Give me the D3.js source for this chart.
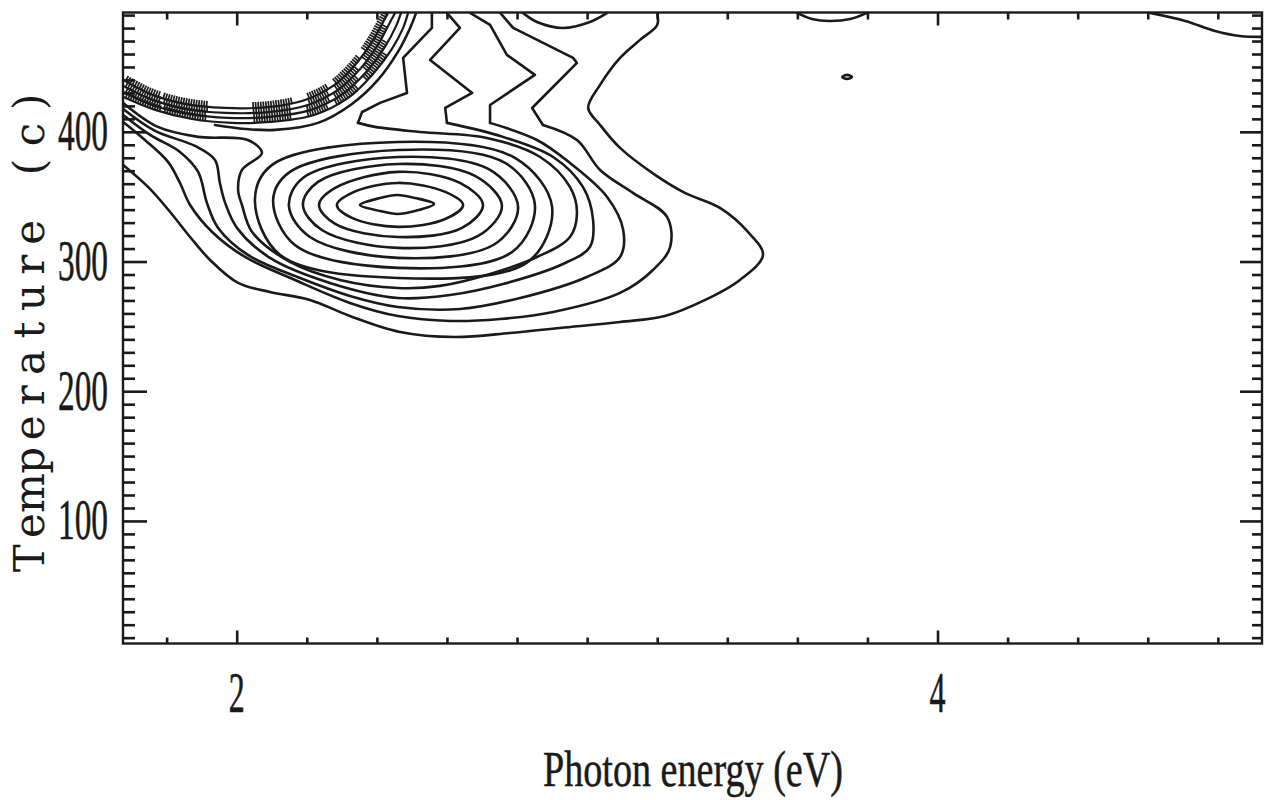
<!DOCTYPE html>
<html>
<head>
<meta charset="utf-8">
<script src="https://cdn.jsdelivr.net/npm/d3@7"></script>
<style>
  body { margin: 0; background: #fff; }
  svg { display: block; }
</style>
</head>
<body>
<script>

// Contour lines, points are [photon energy (eV), temperature (c)]

// closed rings round the peak, innermost first
var lens  = [[2.352,343.6],[2.409,349.0],[2.458,351.3],[2.509,349.0],[2.563,344.4],[2.509,339.0],[2.458,336.7],[2.409,339.0]]
var ringA = [[2.286,343.6],[2.329,352.9],[2.460,360.6],[2.595,353.7],[2.646,343.6],[2.595,332.8],[2.460,326.7],[2.329,333.6]]
var ringB = [[2.235,343.6],[2.281,356.7],[2.460,369.1],[2.637,360.6],[2.703,343.6],[2.643,325.9],[2.460,318.9],[2.281,329.0]]
var ringC = [[2.189,343.6],[2.232,361.4],[2.460,375.2],[2.680,366.0],[2.757,342.9],[2.689,319.7],[2.460,310.5],[2.243,324.3]]
var ringD = [[2.149,342.9],[2.189,364.4],[2.460,380.6],[2.723,370.6],[2.803,342.1],[2.737,313.5],[2.460,302.8],[2.209,318.9]]
var ringE = [[2.104,347.5],[2.152,369.1],[2.460,386.0],[2.766,376.0],[2.851,343.6],[2.786,307.4],[2.460,295.1],[2.166,312.8]]
var ringF = [[2.052,347.5],[2.101,374.5],[2.460,392.2],[2.794,379.9],[2.900,342.1],[2.831,299.7],[2.460,287.3],[2.124,305.1]]

// open lines: from the left edge round the peak (smooth part) ...
var lineG = [[1.676,422.3],[1.775,403.8],[1.890,396.1],[2.032,393.7],[2.072,383.7],[2.015,370.6],[2.004,355.2],[2.015,343.6],
             [2.044,322.8],[2.152,299.7],[2.295,285.8],[2.460,279.6],[2.580,281.2],[2.723,290.4],[2.857,303.5],[2.951,318.9],
             [2.971,337.5],[2.951,357.5],[2.866,380.6],[2.714,395.3],[2.523,399.9],[2.395,403.8],[2.346,406.9]]
var lineH = [[1.676,417.6],[1.767,400.7],[1.881,389.1],[1.938,378.3],[1.952,360.6],[1.967,345.2],[2.001,325.9],[2.095,302.8],
             [2.266,283.5],[2.460,271.9],[2.609,274.2],[2.760,282.7],[2.931,298.1],[3.008,311.2],[3.017,332.1],[2.988,357.5],
             [2.903,380.6],[2.760,396.1],[2.600,406.9]]
var lineI = [[1.676,413.0],[1.753,397.6],[1.838,384.5],[1.890,369.1],[1.915,345.2],[1.947,325.9],[2.032,305.1],[2.181,287.3],
             [2.323,273.5],[2.460,265.0],[2.637,263.4],[2.809,271.9],[2.999,288.1],[3.094,303.5],[3.103,324.3],[3.057,349.8],
             [2.951,376.0],[2.857,393.7],[2.723,406.9]]
var lineJ = [[1.676,407.6],[1.738,393.7],[1.804,376.8],[1.838,360.6],[1.867,343.6],[1.930,322.8],[2.024,303.5],[2.166,285.8],
             [2.323,268.1],[2.460,258.0],[2.609,254.2],[2.752,255.7],[2.903,261.1],[3.094,275.8],[3.188,293.5],[3.237,311.2],
             [3.228,334.4],[3.131,352.9],[3.037,370.6],[2.971,393.7],[2.874,405.3]]
var lineK = [[1.676,374.5],[1.747,357.5],[1.810,338.2],[1.867,318.9],[1.924,301.2],[2.004,283.5],[2.095,276.5],[2.209,270.4],
             [2.323,258.0],[2.466,245.7],[2.623,241.8],[2.780,244.9],[2.923,248.8],[3.094,253.4],[3.222,258.0],[3.337,270.4],
             [3.436,285.8],[3.502,305.1],[3.459,322.8],[3.379,341.3],[3.279,352.9],[3.194,366.8],[3.094,387.6],[3.037,405.3],
             [3.003,418.4],[3.037,436.2],[3.094,457.0],[3.151,470.9],[3.200,482.4],[3.200,491.7]]

// ... and their straight zigzag ends up to the top edge
var lineGTop = [[2.346,406.9],[2.358,415.3],[2.409,422.3],[2.486,430.0],[2.475,457.0],[2.557,480.1],[2.557,491.7]]
var lineHTop = [[2.600,406.9],[2.595,418.4],[2.672,430.0],[2.552,455.4],[2.637,480.1],[2.600,491.7]]
var lineITop = [[2.723,406.9],[2.723,420.7],[2.851,443.9],[2.771,459.3],[2.723,482.4],[2.666,491.7]]
var lineJTop = [[2.874,405.3],[2.843,418.4],[2.971,453.1],[2.960,457.0],[2.789,480.1],[2.752,491.7]]

// arcs round the hollow in the upper left corner (hatched in places)
var arcU1 = [[1.676,440.0],[1.753,429.2],[1.852,421.5],[1.967,418.4],[2.095,419.2],[2.195,424.6],[2.275,435.4],[2.338,451.6],[2.386,469.3],[2.418,484.7],[2.432,491.7]]
var arcU2 = [[1.676,435.4],[1.753,425.4],[1.852,417.6],[1.967,414.6],[2.095,415.3],[2.203,420.7],[2.289,432.3],[2.355,449.3],[2.403,467.0],[2.435,483.2],[2.452,491.7]]
var arcU3 = [[1.676,430.8],[1.758,420.7],[1.861,413.8],[1.975,410.7],[2.095,411.5],[2.212,416.9],[2.303,429.2],[2.372,446.9],[2.423,465.5],[2.455,481.7],[2.469,491.7]]
var arcU4 = [[1.676,426.9],[1.767,416.9],[1.872,409.9],[1.987,406.9],[2.095,407.6],[2.221,413.0],[2.318,426.1],[2.389,444.6],[2.443,463.9],[2.475,480.1],[2.489,491.7]]
var arcU0 = [[1.938,405.3],[2.024,402.2],[2.109,401.5],[2.232,406.9],[2.329,421.5],[2.403,440.0],[2.460,461.6],[2.495,480.1],[2.512,491.7]]

// small pieces near the top edge
var topArcMid   = [[2.817,491.7],[2.857,484.7],[2.931,480.1],[3.008,484.7],[3.057,491.7]]
var topArcRight = [[3.599,491.7],[3.642,487.0],[3.693,485.5],[3.751,487.0],[3.799,491.7]]
var cornerLine  = [[4.607,491.7],[4.707,485.5],[4.792,477.8],[4.863,473.9],[4.926,473.2]]
var blob        = [[3.728,442.3],[3.742,443.9],[3.756,442.3],[3.742,440.8]]

// energy ranges where the hollow arcs are drawn hatched
var hatchRanges = [[1.676,1.781],[1.790,1.915],[2.044,2.158],[2.203,2.266],[2.283,2.352],[2.369,2.432]]

var xMajorTicks = [2, 4]
var yMajorTicks = [100, 200, 300, 400]
var xTitle = 'Photon energy (eV)'
var yTitle = 'Temperature (c)'

var closedContours = [lens, ringA, ringB, ringC, ringD, ringE, ringF, blob]
var smoothContours = [lineG, lineH, lineI, lineJ, lineK, arcU0, topArcMid, topArcRight, cornerLine]
var zigzagContours = [lineGTop, lineHTop, lineITop, lineJTop]
var hatchedArcs = [arcU1, arcU2, arcU3, arcU4]

var width = 1265
var height = 800
var plotLeft = 123, plotRight = 1262, plotTop = 12.5, plotBottom = 643.5
var ink = '#1a1a1a'
var lineWidth = 2.6

var x = d3.scaleLinear().domain([1.6755, 4.926]).range([plotLeft, plotRight])
var y = d3.scaleLinear().domain([5.5, 492]).range([plotBottom, plotTop])

var svg = d3.select('body').append('svg')
    .attr('width', width)
    .attr('height', height)

svg.append('defs').append('clipPath').attr('id', 'plot-clip')
    .append('rect')
        .attr('x', plotLeft).attr('y', plotTop)
        .attr('width', plotRight - plotLeft).attr('height', plotBottom - plotTop)

var plot = svg.append('g').attr('clip-path', 'url(#plot-clip)')

var smoothLine = d3.line()
    .x(d => x(d[0]))
    .y(d => y(d[1]))
    .curve(d3.curveCatmullRom.alpha(0.5))

var straightLine = d3.line()
    .x(d => x(d[0]))
    .y(d => y(d[1]))

var closedLine = d3.line()
    .x(d => x(d[0]))
    .y(d => y(d[1]))
    .curve(d3.curveCatmullRomClosed.alpha(0.5))

function drawPaths(cls, data, gen) {
    return plot.selectAll('path.' + cls)
        .data(data)
        .enter().append('path')
            .attr('class', cls)
            .attr('d', gen)
            .attr('fill', 'none')
            .attr('stroke', ink)
            .attr('stroke-width', lineWidth)
            .attr('stroke-linejoin', 'round')
            .attr('stroke-linecap', 'round')
}

function drawContours() {
    drawPaths('closed', closedContours, closedLine)
    drawPaths('smooth', smoothContours, smoothLine)
    drawPaths('zigzag', zigzagContours, straightLine)
    var arcs = drawPaths('arc', hatchedArcs, smoothLine).attr('stroke-width', 2.2)

    // hatch ticks point into the hollow (left of the direction of travel)
    var hatch = plot.append('g')
        .attr('stroke', ink)
        .attr('stroke-width', 1.7)
    arcs.each(function() {
        var path = this
        var total = path.getTotalLength()
        for (var s = 0; s < total - 1; s += 2.6) {
            var p = path.getPointAtLength(s)
            var e = x.invert(p.x)
            var inside = hatchRanges.some(r => e >= r[0] && e <= r[1])
            if (!inside) continue
            var q = path.getPointAtLength(s + 1)
            var dx = q.x - p.x, dy = q.y - p.y
            var len = Math.sqrt(dx * dx + dy * dy) || 1
            var nx = dy / len, ny = -dx / len
            hatch.append('line')
                .attr('x1', p.x).attr('y1', p.y)
                .attr('x2', p.x + nx * 6).attr('y2', p.y + ny * 6)
        }
    })
}

function drawAxes() {
    var xMinor = d3.range(1.8, 4.85, 0.2).filter(v => xMajorTicks.every(m => Math.abs(m - v) > 0.01))
    var yMinor = d3.range(10, 491, 10).filter(v => v % 100 != 0)

    var axes = [
        { gen: d3.axisBottom(x).tickValues(xMajorTicks).tickSize(-13), at: 'translate(0,' + plotBottom + ')' },
        { gen: d3.axisBottom(x).tickValues(xMinor).tickSize(-6), at: 'translate(0,' + plotBottom + ')' },
        { gen: d3.axisTop(x).tickValues(xMajorTicks).tickSize(-13), at: 'translate(0,' + plotTop + ')' },
        { gen: d3.axisTop(x).tickValues(xMinor).tickSize(-7), at: 'translate(0,' + plotTop + ')' },
        { gen: d3.axisLeft(y).tickValues(yMajorTicks).tickSize(-24), at: 'translate(' + plotLeft + ',0)' },
        { gen: d3.axisLeft(y).tickValues(yMinor).tickSize(-12), at: 'translate(' + plotLeft + ',0)' },
        { gen: d3.axisRight(y).tickValues(yMajorTicks).tickSize(-22), at: 'translate(' + plotRight + ',0)' },
        { gen: d3.axisRight(y).tickValues(yMinor).tickSize(-10), at: 'translate(' + plotRight + ',0)' }
    ]

    axes.forEach(function(a) {
        var g = svg.append('g')
            .attr('transform', a.at)
            .call(a.gen.tickFormat('').tickSizeOuter(0))
        g.select('.domain').remove()
        g.selectAll('line').attr('stroke', ink).attr('stroke-width', 2.6)
    })

    svg.append('rect')
        .attr('x', plotLeft).attr('y', plotTop)
        .attr('width', plotRight - plotLeft).attr('height', plotBottom - plotTop)
        .attr('fill', 'none')
        .attr('stroke', ink)
        .attr('stroke-width', 2.4)

    // tick labels in a tall narrow face
    svg.selectAll('text.xlabel')
        .data(xMajorTicks)
        .enter().append('text')
            .attr('class', 'xlabel')
            .attr('x', d => x(d))
            .attr('y', 712)
            .attr('text-anchor', 'middle')
            .attr('textLength', 16)
            .attr('lengthAdjust', 'spacingAndGlyphs')
            .style('font-family', 'Liberation Serif')
            .style('font-size', '58px')
            .attr('fill', ink)
            .attr('stroke', ink)
            .attr('stroke-width', 0.6)
            .text(d => d)

    svg.selectAll('text.ylabel')
        .data(yMajorTicks)
        .enter().append('text')
            .attr('class', 'ylabel')
            .attr('x', 108)
            .attr('y', d => y(d) + 18.5)
            .attr('text-anchor', 'end')
            .attr('textLength', 50)
            .attr('lengthAdjust', 'spacingAndGlyphs')
            .style('font-family', 'Liberation Serif')
            .style('font-size', '58px')
            .attr('fill', ink)
            .attr('stroke', ink)
            .attr('stroke-width', 0.6)
            .text(d => d)

    svg.append('text')
        .attr('x', 693)
        .attr('y', 786)
        .attr('text-anchor', 'middle')
        .attr('textLength', 300)
        .attr('lengthAdjust', 'spacingAndGlyphs')
        .style('font-family', 'Liberation Serif')
        .style('font-size', '51px')
        .attr('fill', ink)
        .attr('stroke', ink)
        .attr('stroke-width', 0.5)
        .text(xTitle)

    // y title in fixed-width cells, like a typewriter face
    var cell = 32.6
    var start = -yTitle.length * cell / 2
    var yt = svg.append('text')
        .attr('transform', 'translate(44,330) rotate(-90)')
        .attr('text-anchor', 'middle')
        .style('font-family', 'DejaVu Serif')
        .style('font-size', '42px')
        .attr('fill', ink)
    yTitle.split('').forEach(function(ch, i) {
        if (ch == ' ') return
        yt.append('tspan')
            .attr('x', start + (i + 0.5) * cell)
            .attr('y', 0)
            .text(ch)
    })
}

drawContours()
drawAxes()

</script>
</body>
</html>
